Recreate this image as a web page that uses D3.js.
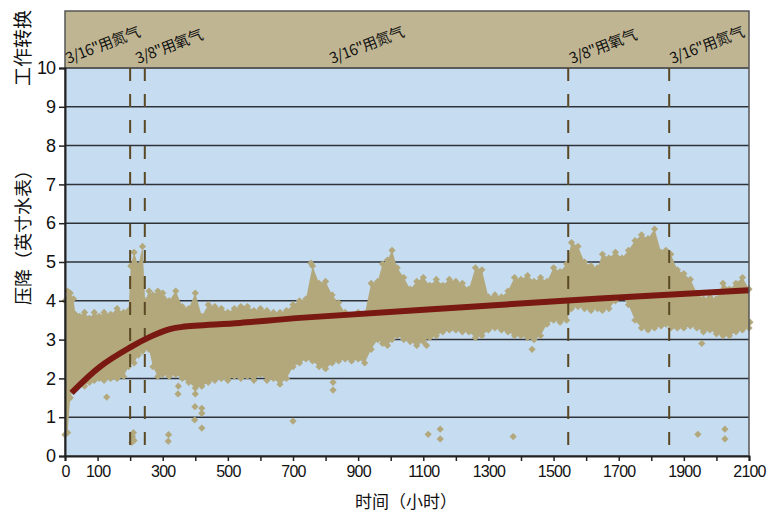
<!DOCTYPE html>
<html>
<head>
<meta charset="utf-8">
<script src="https://cdn.jsdelivr.net/npm/d3@7"></script>
<style>
  body { margin: 0; background: #fff; }
  text { font-family: "Liberation Sans", Arial, sans-serif; fill: #111; }
  .cjk { font-family: "Noto Sans CJK SC", sans-serif; }
</style>
</head>
<body>
<svg id="chart" width="772" height="516"></svg>
<script>
var plotLeft = 65, plotRight = 749, plotTop = 68, plotBottom = 456, bandTop = 11;

// scatter cloud, read as lower / upper edge at each hour
var scatterHours = [0, 8, 16, 26, 32, 45, 60, 75, 90, 105, 120, 140, 160, 180, 195, 202, 212, 225, 238, 246,
  258, 270, 285, 300, 320, 340, 360, 380, 400, 420, 440, 460, 480, 500, 520, 540, 560, 580, 600, 620,
  640, 660, 680, 700, 720, 740, 760, 780, 800, 820, 840, 860, 880, 900, 920, 940, 960, 975, 990, 1004,
  1020, 1040, 1060, 1080, 1100, 1120, 1140, 1160, 1180, 1200, 1220, 1240, 1260, 1280, 1300, 1320, 1340, 1360, 1380, 1400,
  1420, 1440, 1460, 1480, 1500, 1520, 1540, 1555, 1575, 1595, 1615, 1635, 1650, 1670, 1690, 1710, 1730, 1750, 1770, 1790,
  1810, 1830, 1845, 1860, 1880, 1900, 1920, 1940, 1960, 1980, 2000, 2020, 2040, 2060, 2080, 2100];
var scatterLow = [0.55, 0.6, 1.5, 1.75, 1.8, 1.85, 1.8, 1.9, 1.95, 2.0, 1.95, 2.0, 2.0, 2.05, 2.3, 2.5, 2.4, 2.6, 2.7, 2.8,
  2.75, 2.3, 2.05, 2.1, 2.05, 2.1, 2.0, 1.9, 1.75, 1.8, 1.9, 1.95, 2.0, 1.95, 2.05, 2.0, 2.05, 1.95, 2.1, 1.95,
  2.0, 1.85, 2.0, 2.3, 2.4, 2.5, 2.45, 2.3, 2.25, 2.4, 2.45, 2.5, 2.45, 2.5, 2.4, 2.75, 3.0, 2.9, 2.85, 3.0,
  3.1, 3.0, 2.95, 2.85, 2.95, 3.05, 3.1, 3.2, 3.25, 3.25, 3.2, 3.2, 3.05, 3.1, 3.25, 3.3, 3.25, 3.2, 3.1, 3.1,
  3.05, 3.0, 3.1, 3.4, 3.5, 3.45, 3.5, 3.8, 3.85, 3.8, 3.75, 3.8, 3.75, 3.8, 4.0, 4.1, 3.9, 3.5, 3.3, 3.25,
  3.3, 3.35, 3.4, 3.3, 3.3, 3.3, 3.35, 3.3, 3.2, 3.25, 3.15, 3.1, 3.1, 3.2, 3.25, 3.3];
var scatterHigh = [4.0, 4.25, 4.2, 4.05, 3.65, 3.6, 3.7, 3.55, 3.7, 3.6, 3.7, 3.65, 3.8, 3.7, 3.75, 4.9, 5.25, 4.9, 5.4, 4.0,
  4.25, 4.15, 4.25, 4.2, 4.0, 4.25, 3.85, 3.8, 4.2, 3.6, 3.9, 3.85, 3.8, 3.7, 3.8, 3.85, 3.85, 3.75, 3.8, 3.75,
  3.7, 3.7, 3.75, 3.9, 4.0, 4.05, 4.9, 4.45, 4.5, 4.15, 3.95, 3.7, 3.6, 3.7, 3.65, 4.45, 4.5, 4.95, 5.05, 5.3,
  4.85, 4.6, 4.3, 4.5, 4.6, 4.4, 4.55, 4.4, 4.55, 4.5, 4.45, 4.3, 4.85, 4.8, 4.1, 4.15, 4.1, 4.25, 4.6, 4.55,
  4.65, 4.5, 4.6, 4.5, 4.85, 4.75, 4.95, 5.5, 5.4, 5.0, 4.9, 4.85, 5.2, 5.1, 5.25, 5.1, 5.3, 5.55, 5.7, 5.6,
  5.85, 5.25, 5.3, 5.2, 4.8, 4.7, 4.55, 4.2, 4.05, 4.1, 4.05, 4.45, 4.3, 4.45, 4.6, 4.3];

// stray points outside the cloud
var outlierHours = [128, 205, 207, 210, 212, 317, 318, 347, 348, 400, 399, 398, 420, 420, 420, 700, 755, 823, 823,
  1110, 1115, 1152, 1152, 1376, 1434, 1943, 1955, 2026, 2026, 2103];
var outlierValues = [1.52, 0.35, 0.5, 0.6, 0.4, 0.38, 0.55, 1.6, 1.8, 1.6, 1.27, 0.93, 1.23, 1.1, 0.72, 0.9, 4.97, 1.7, 1.9,
  2.85, 0.56, 0.69, 0.44, 0.5, 2.75, 0.56, 2.9, 0.69, 0.44, 3.45];

// trend line
var trendHours = [20, 107, 200, 261, 322, 362, 537, 721, 1090, 1642, 2100];
var trendValues = [1.63, 2.3, 2.8, 3.07, 3.27, 3.33, 3.43, 3.56, 3.76, 4.06, 4.27];

// work changes
var changeHours = [200, 245, 1545, 1855];
var labelHours = [9, 224, 820, 1556, 1864];
var labelTexts = ["3/16\"用氮气", "3/8\"用氧气", "3/16\"用氮气", "3/8\"用氧气", "3/16\"用氮气"];

var xTicks = d3.range(0, 2101, 100);
var xTickLabels = [0, 100, 300, 500, 700, 900, 1100, 1300, 1500, 1700, 1900, 2100];
var yTicks = d3.range(0, 11, 1);

var svg = d3.select("#chart");

var x = d3.scaleLinear().domain([0, 2100]).range([plotLeft, plotRight]);
var y = d3.scaleLinear().domain([0, 10]).range([plotBottom, plotTop]);

// backgrounds
svg.append("rect")
  .attr("x", plotLeft).attr("y", plotTop)
  .attr("width", plotRight - plotLeft).attr("height", plotBottom - plotTop)
  .attr("fill", "#c6dcf0");
svg.append("rect")
  .attr("x", plotLeft).attr("y", bandTop)
  .attr("width", plotRight - plotLeft).attr("height", plotTop - bandTop)
  .attr("fill", "#bfb593");

// grid
svg.append("g")
  .selectAll("line")
  .data(yTicks.filter(function(d) { return d > 0; }))
  .enter().append("line")
  .attr("x1", plotLeft).attr("x2", plotRight)
  .attr("y1", function(d) { return y(d); })
  .attr("y2", function(d) { return y(d); })
  .attr("stroke", function(d) { return d === 10 ? "#5a5a5a" : "#2e3238"; })
  .attr("stroke-width", function(d) { return d === 10 ? 2 : 1.5; });

// scatter cloud
var cloud = scatterHours.map(function(h, i) {
  return { h: h, lo: scatterLow[i], hi: scatterHigh[i] };
});
var sandColor = "#b2a87c";

svg.append("path")
  .datum(cloud)
  .attr("fill", sandColor)
  .attr("d", d3.area()
    .x(function(d) { return x(d.h); })
    .y0(function(d) { return y(d.lo); })
    .y1(function(d) { return y(d.hi); }));

var diamond = d3.symbol().type(d3.symbolSquare).size(26);
var edgePoints = [];
cloud.forEach(function(d) {
  edgePoints.push({ h: d.h, v: d.lo });
  edgePoints.push({ h: d.h, v: d.hi });
});
outlierHours.forEach(function(h, i) {
  edgePoints.push({ h: h, v: outlierValues[i] });
});

svg.append("g")
  .selectAll("path")
  .data(edgePoints)
  .enter().append("path")
  .attr("d", diamond)
  .attr("fill", sandColor)
  .attr("transform", function(d) {
    return "translate(" + x(d.h) + "," + y(d.v) + ") rotate(45)";
  });

// dashed change lines
svg.append("g")
  .selectAll("line")
  .data(changeHours)
  .enter().append("line")
  .attr("x1", function(d) { return x(d); })
  .attr("x2", function(d) { return x(d); })
  .attr("y1", plotTop).attr("y2", plotBottom)
  .attr("stroke", "#5b4824")
  .attr("stroke-width", 2)
  .attr("stroke-dasharray", "13,13");

// trend
var trend = trendHours.map(function(h, i) { return { h: h, v: trendValues[i] }; });
svg.append("path")
  .datum(trend)
  .attr("fill", "none")
  .attr("stroke", "#7a1812")
  .attr("stroke-width", 6)
  .attr("d", d3.line()
    .curve(d3.curveCatmullRom.alpha(0.5))
    .x(function(d) { return x(d.h); })
    .y(function(d) { return y(d.v); }));

// frame
svg.append("rect")
  .attr("x", plotLeft).attr("y", bandTop)
  .attr("width", plotRight - plotLeft).attr("height", plotBottom - bandTop)
  .attr("fill", "none")
  .attr("stroke", "#555")
  .attr("stroke-width", 1.5);

// axes
var yAxis = svg.append("g")
  .attr("transform", "translate(" + plotLeft + ",0)")
  .call(d3.axisLeft(y).tickValues(yTicks).tickSize(6).tickPadding(4));
yAxis.select(".domain").attr("stroke", "#222").attr("stroke-width", 2);
yAxis.selectAll(".tick line").attr("stroke", "#222").attr("stroke-width", 1.5);
yAxis.selectAll(".tick text")
  .style("font-size", "18px")
  .style("letter-spacing", "-1px")
  .attr("fill", "#111");

var xAxis = svg.append("g")
  .attr("transform", "translate(0," + plotBottom + ")")
  .call(d3.axisBottom(x).tickValues(xTicks).tickSize(5).tickPadding(5)
    .tickFormat(function(d) { return xTickLabels.indexOf(d) >= 0 ? d : ""; }));
xAxis.select(".domain").attr("stroke", "#222").attr("stroke-width", 2);
xAxis.selectAll(".tick line").attr("stroke", "#222").attr("stroke-width", 1.5);
xAxis.selectAll(".tick text")
  .style("font-size", "16px")
  .style("letter-spacing", "-0.8px")
  .attr("fill", "#111");

// band labels
svg.append("g")
  .selectAll("text")
  .data(labelHours)
  .enter().append("text")
  .attr("class", "cjk")
  .attr("transform", function(d) { return "translate(" + x(d) + ",64) rotate(-21)"; })
  .style("font-size", "15px")
  .style("letter-spacing", "-0.6px")
  .text(function(d, i) { return labelTexts[i]; });

// axis titles
svg.append("text")
  .attr("class", "cjk")
  .attr("transform", "translate(30,48) rotate(-90)")
  .attr("text-anchor", "middle")
  .style("font-size", "19px")
  .text("工作转换");

svg.append("text")
  .attr("class", "cjk")
  .attr("transform", "translate(30,233) rotate(-90)")
  .attr("text-anchor", "middle")
  .style("font-size", "18px")
  .text("压降（英寸水表）");

svg.append("text")
  .attr("class", "cjk")
  .attr("x", 406).attr("y", 508)
  .attr("text-anchor", "middle")
  .style("font-size", "17px")
  .text("时间（小时）");
</script>
</body>
</html>
